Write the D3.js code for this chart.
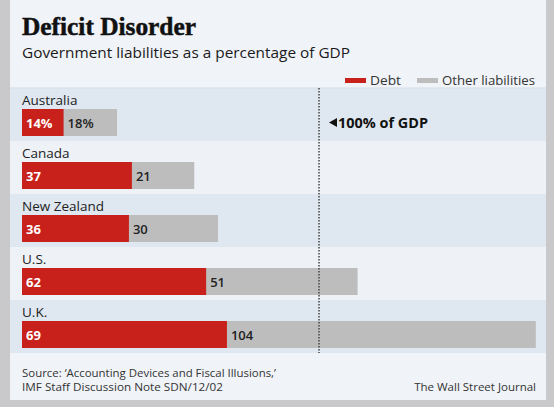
<!DOCTYPE html>
<html><head><meta charset="utf-8">
<script src="https://cdn.jsdelivr.net/npm/d3@7"></script>
<style>
html,body{margin:0;padding:0;background:#c9c9cb;}
svg{display:block;}
</style></head>
<body>
<svg id="chart" width="554" height="407"></svg>
<script>
const countries = ["Australia", "Canada", "New Zealand", "U.S.", "U.K."];
const debt = [14, 37, 36, 62, 69];
const other = [18, 21, 30, 51, 104];
const seriesNames = ["Debt", "Other liabilities"];
const refValue = 100;
const refLabel = "100% of GDP";

const W = 554, H = 407;
const svg = d3.select("#chart");
const FONT = "'Open Sans', 'Noto Sans', sans-serif";

// card
svg.append("rect").attr("x", 0).attr("y", 0).attr("width", W).attr("height", H).attr("fill", "#c9c9cb");
svg.append("rect").attr("x", 10).attr("y", 0).attr("width", 536).attr("height", 400).attr("fill", "#f0f3f8");

const x = d3.scaleLinear().domain([0, 100]).range([22, 319]);
const y = d3.scaleBand().domain(countries).range([88, 353]).paddingInner(0).paddingOuter(0);

// bands
svg.append("g").selectAll("rect").data(countries).join("rect")
  .attr("x", 10).attr("width", 536)
  .attr("y", d => y(d)).attr("height", y.bandwidth())
  .attr("fill", (d, i) => i % 2 === 0 ? "#dfe8f0" : "#eef2f7");
svg.append("line").attr("x1", 10).attr("x2", 546).attr("y1", 88).attr("y2", 88)
  .attr("stroke", "#d5dde6").attr("stroke-width", 1);

// title
svg.append("text").attr("x", 22).attr("y", 35).text("Deficit Disorder")
  .attr("font-family", "'Liberation Serif', serif").attr("font-weight", "bold")
  .attr("font-size", 25).attr("fill", "#111").attr("stroke", "#111").attr("stroke-width", 0.5)
  .attr("textLength", 174).attr("lengthAdjust", "spacingAndGlyphs");
svg.append("text").attr("x", 22).attr("y", 58).text("Government liabilities as a percentage of GDP")
  .attr("font-family", FONT).attr("font-size", 15).attr("fill", "#1a1a1a")
  .attr("textLength", 328).attr("lengthAdjust", "spacingAndGlyphs");

// legend
const legend = [{name: seriesNames[0], color: "#c8201a", x: 345, tx: 370, tw: 31},
                {name: seriesNames[1], color: "#bdbdbd", x: 417, tx: 442, tw: 93}];
const lg = svg.append("g").selectAll("g").data(legend).join("g");
lg.append("rect").attr("x", d => d.x).attr("y", 78).attr("width", 21).attr("height", 5).attr("fill", d => d.color);
lg.append("text").attr("x", d => d.tx).attr("y", 85).text(d => d.name)
  .attr("font-family", FONT).attr("font-size", 12.5).attr("fill", "#333")
  .attr("textLength", d => d.tw).attr("lengthAdjust", "spacingAndGlyphs");

const barH = 27, barOff = 21;
const rows = svg.append("g").selectAll("g").data(countries).join("g");
rows.append("text").attr("x", 22).attr("y", d => y(d) + 17).text(d => d)
  .attr("font-family", FONT).attr("font-size", 13.5).attr("fill", "#222");
rows.append("rect").attr("x", x(0)).attr("y", d => y(d) + barOff)
  .attr("width", (d, i) => x(debt[i] + other[i]) - x(0)).attr("height", barH).attr("fill", "#bdbdbd");
rows.append("rect").attr("x", x(0)).attr("y", d => y(d) + barOff)
  .attr("width", (d, i) => x(debt[i]) - x(0)).attr("height", barH).attr("fill", "#c8201a");
rows.append("text").attr("x", x(0) + 4).attr("y", d => y(d) + barOff + 18.5)
  .text((d, i) => i === 0 ? debt[i] + "%" : debt[i])
  .attr("font-family", FONT).attr("font-weight", "bold").attr("font-size", 13).attr("fill", "#fff");
rows.append("text").attr("x", (d, i) => x(debt[i]) + 4).attr("y", d => y(d) + barOff + 18.5)
  .text((d, i) => i === 0 ? other[i] + "%" : other[i])
  .attr("font-family", FONT).attr("font-weight", 600).attr("font-size", 13).attr("fill", "#222");

// 100% line
svg.append("line").attr("x1", x(refValue)).attr("x2", x(refValue)).attr("y1", 88).attr("y2", 353)
  .attr("stroke", "#444").attr("stroke-width", 1.5).attr("stroke-dasharray", "1.5,1.5");
svg.append("path").attr("d", "M329,122.5 L337,118 L337,127 Z").attr("fill", "#111");
svg.append("text").attr("x", 338).attr("y", 127.5).text(refLabel)
  .attr("font-family", FONT).attr("font-weight", "bold").attr("font-size", 13.5).attr("fill", "#111")
  .attr("textLength", 90).attr("lengthAdjust", "spacingAndGlyphs");

// footer
svg.append("text").attr("x", 22).attr("y", 377).text("Source: \u2018Accounting Devices and Fiscal Illusions,\u2019")
  .attr("font-family", FONT).attr("font-size", 11.5).attr("fill", "#333")
  .attr("textLength", 254).attr("lengthAdjust", "spacingAndGlyphs");
svg.append("text").attr("x", 22).attr("y", 391).text("IMF Staff Discussion Note SDN/12/02")
  .attr("font-family", FONT).attr("font-size", 11.5).attr("fill", "#333")
  .attr("textLength", 201).attr("lengthAdjust", "spacingAndGlyphs");
svg.append("text").attr("x", 536).attr("y", 391).attr("text-anchor", "end").text("The Wall Street Journal")
  .attr("font-family", FONT).attr("font-size", 11.5).attr("fill", "#333");
</script>
</body></html>
